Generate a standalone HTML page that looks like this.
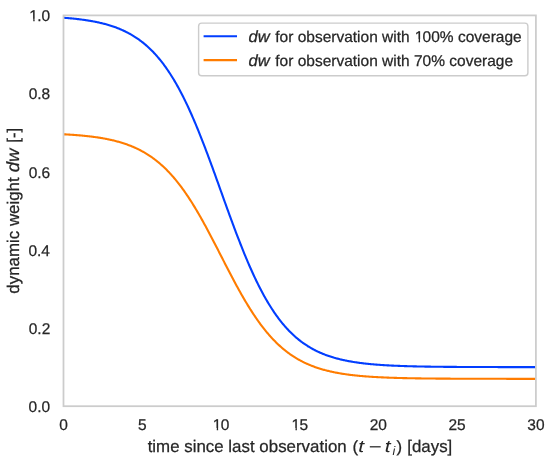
<!DOCTYPE html>
<html><head><meta charset="utf-8"><style>
html,body{margin:0;padding:0;background:#fff;width:550px;height:460px;overflow:hidden}
svg{display:block;will-change:transform}
text{font-family:"Liberation Sans",sans-serif;fill:#262626;stroke:#262626;stroke-width:0.25px}
</style></head><body>
<svg width="550" height="460" viewBox="0 0 550 460">
<rect x="0" y="0" width="550" height="460" fill="#fff"/>
<defs><clipPath id="ax"><rect x="63.5" y="15.4" width="472.40" height="390.80"/></clipPath></defs>
<g clip-path="url(#ax)">
<path d="M63.50,17.75 L64.29,17.81 L65.07,17.87 L65.86,17.94 L66.65,18.00 L67.44,18.07 L68.22,18.13 L69.01,18.20 L69.80,18.27 L70.59,18.34 L71.37,18.42 L72.16,18.49 L72.95,18.57 L73.74,18.65 L74.52,18.73 L75.31,18.81 L76.10,18.90 L76.88,18.99 L77.67,19.08 L78.46,19.17 L79.25,19.26 L80.03,19.36 L80.82,19.46 L81.61,19.56 L82.40,19.67 L83.18,19.77 L83.97,19.88 L84.76,19.99 L85.55,20.11 L86.33,20.23 L87.12,20.35 L87.91,20.47 L88.69,20.60 L89.48,20.73 L90.27,20.86 L91.06,20.99 L91.84,21.13 L92.63,21.28 L93.42,21.42 L94.21,21.57 L94.99,21.73 L95.78,21.88 L96.57,22.04 L97.36,22.21 L98.14,22.38 L98.93,22.55 L99.72,22.73 L100.50,22.91 L101.29,23.10 L102.08,23.29 L102.87,23.48 L103.65,23.68 L104.44,23.89 L105.23,24.10 L106.02,24.31 L106.80,24.53 L107.59,24.75 L108.38,24.99 L109.17,25.22 L109.95,25.46 L110.74,25.71 L111.53,25.96 L112.31,26.22 L113.10,26.49 L113.89,26.76 L114.68,27.04 L115.46,27.32 L116.25,27.61 L117.04,27.91 L117.83,28.22 L118.61,28.53 L119.40,28.85 L120.19,29.18 L120.98,29.51 L121.76,29.85 L122.55,30.20 L123.34,30.56 L124.12,30.93 L124.91,31.30 L125.70,31.69 L126.49,32.08 L127.27,32.48 L128.06,32.89 L128.85,33.31 L129.64,33.74 L130.42,34.18 L131.21,34.63 L132.00,35.09 L132.79,35.56 L133.57,36.04 L134.36,36.53 L135.15,37.04 L135.93,37.55 L136.72,38.07 L137.51,38.61 L138.30,39.16 L139.08,39.72 L139.87,40.29 L140.66,40.87 L141.45,41.47 L142.23,42.08 L143.02,42.70 L143.81,43.34 L144.60,43.99 L145.38,44.65 L146.17,45.33 L146.96,46.02 L147.74,46.73 L148.53,47.45 L149.32,48.19 L150.11,48.94 L150.89,49.70 L151.68,50.48 L152.47,51.28 L153.26,52.10 L154.04,52.93 L154.83,53.77 L155.62,54.63 L156.41,55.51 L157.19,56.41 L157.98,57.33 L158.77,58.26 L159.55,59.21 L160.34,60.18 L161.13,61.16 L161.92,62.17 L162.70,63.19 L163.49,64.23 L164.28,65.29 L165.07,66.37 L165.85,67.47 L166.64,68.59 L167.43,69.73 L168.22,70.89 L169.00,72.07 L169.79,73.26 L170.58,74.48 L171.36,75.72 L172.15,76.98 L172.94,78.26 L173.73,79.56 L174.51,80.88 L175.30,82.23 L176.09,83.59 L176.88,84.98 L177.66,86.38 L178.45,87.81 L179.24,89.26 L180.03,90.73 L180.81,92.22 L181.60,93.73 L182.39,95.26 L183.17,96.81 L183.96,98.39 L184.75,99.98 L185.54,101.60 L186.32,103.24 L187.11,104.90 L187.90,106.57 L188.69,108.27 L189.47,109.99 L190.26,111.73 L191.05,113.49 L191.84,115.27 L192.62,117.06 L193.41,118.88 L194.20,120.72 L194.98,122.57 L195.77,124.44 L196.56,126.33 L197.35,128.24 L198.13,130.16 L198.92,132.10 L199.71,134.06 L200.50,136.04 L201.28,138.03 L202.07,140.03 L202.86,142.05 L203.65,144.08 L204.43,146.13 L205.22,148.19 L206.01,150.26 L206.79,152.35 L207.58,154.44 L208.37,156.55 L209.16,158.67 L209.94,160.79 L210.73,162.93 L211.52,165.08 L212.31,167.23 L213.09,169.39 L213.88,171.56 L214.67,173.73 L215.46,175.91 L216.24,178.10 L217.03,180.28 L217.82,182.47 L218.60,184.67 L219.39,186.86 L220.18,189.06 L220.97,191.26 L221.75,193.46 L222.54,195.66 L223.33,197.85 L224.12,200.05 L224.90,202.24 L225.69,204.42 L226.48,206.61 L227.27,208.79 L228.05,210.96 L228.84,213.13 L229.63,215.29 L230.41,217.44 L231.20,219.59 L231.99,221.73 L232.78,223.85 L233.56,225.97 L234.35,228.08 L235.14,230.17 L235.93,232.26 L236.71,234.33 L237.50,236.39 L238.29,238.44 L239.08,240.47 L239.86,242.49 L240.65,244.49 L241.44,246.48 L242.22,248.46 L243.01,250.42 L243.80,252.36 L244.59,254.28 L245.37,256.19 L246.16,258.08 L246.95,259.95 L247.74,261.80 L248.52,263.64 L249.31,265.46 L250.10,267.25 L250.89,269.03 L251.67,270.79 L252.46,272.53 L253.25,274.25 L254.03,275.95 L254.82,277.62 L255.61,279.28 L256.40,280.92 L257.18,282.54 L257.97,284.13 L258.76,285.71 L259.55,287.26 L260.33,288.79 L261.12,290.30 L261.91,291.79 L262.70,293.26 L263.48,294.71 L264.27,296.14 L265.06,297.54 L265.84,298.93 L266.63,300.29 L267.42,301.64 L268.21,302.96 L268.99,304.26 L269.78,305.54 L270.57,306.80 L271.36,308.04 L272.14,309.26 L272.93,310.45 L273.72,311.63 L274.51,312.79 L275.29,313.93 L276.08,315.05 L276.87,316.15 L277.65,317.23 L278.44,318.29 L279.23,319.33 L280.02,320.35 L280.80,321.36 L281.59,322.34 L282.38,323.31 L283.17,324.26 L283.95,325.19 L284.74,326.11 L285.53,327.01 L286.32,327.89 L287.10,328.75 L287.89,329.59 L288.68,330.42 L289.46,331.24 L290.25,332.04 L291.04,332.82 L291.83,333.58 L292.61,334.33 L293.40,335.07 L294.19,335.79 L294.98,336.50 L295.76,337.19 L296.55,337.87 L297.34,338.53 L298.13,339.18 L298.91,339.82 L299.70,340.44 L300.49,341.05 L301.27,341.65 L302.06,342.23 L302.85,342.80 L303.64,343.36 L304.42,343.91 L305.21,344.45 L306.00,344.97 L306.79,345.48 L307.57,345.99 L308.36,346.48 L309.15,346.96 L309.94,347.43 L310.72,347.89 L311.51,348.34 L312.30,348.78 L313.08,349.21 L313.87,349.63 L314.66,350.04 L315.45,350.44 L316.23,350.83 L317.02,351.22 L317.81,351.59 L318.60,351.96 L319.38,352.32 L320.17,352.67 L320.96,353.01 L321.75,353.34 L322.53,353.67 L323.32,353.99 L324.11,354.30 L324.89,354.61 L325.68,354.91 L326.47,355.20 L327.26,355.48 L328.04,355.76 L328.83,356.03 L329.62,356.30 L330.41,356.56 L331.19,356.81 L331.98,357.06 L332.77,357.30 L333.56,357.53 L334.34,357.77 L335.13,357.99 L335.92,358.21 L336.70,358.42 L337.49,358.63 L338.28,358.84 L339.07,359.04 L339.85,359.23 L340.64,359.42 L341.43,359.61 L342.22,359.79 L343.00,359.97 L343.79,360.14 L344.58,360.31 L345.37,360.48 L346.15,360.64 L346.94,360.79 L347.73,360.95 L348.51,361.10 L349.30,361.24 L350.09,361.39 L350.88,361.53 L351.66,361.66 L352.45,361.79 L353.24,361.92 L354.03,362.05 L354.81,362.17 L355.60,362.29 L356.39,362.41 L357.18,362.53 L357.96,362.64 L358.75,362.75 L359.54,362.85 L360.32,362.96 L361.11,363.06 L361.90,363.16 L362.69,363.26 L363.47,363.35 L364.26,363.44 L365.05,363.53 L365.84,363.62 L366.62,363.71 L367.41,363.79 L368.20,363.87 L368.99,363.95 L369.77,364.03 L370.56,364.10 L371.35,364.18 L372.13,364.25 L372.92,364.32 L373.71,364.39 L374.50,364.45 L375.28,364.52 L376.07,364.58 L376.86,364.65 L377.65,364.71 L378.43,364.77 L379.22,364.82 L380.01,364.88 L380.80,364.94 L381.58,364.99 L382.37,365.04 L383.16,365.09 L383.94,365.14 L384.73,365.19 L385.52,365.24 L386.31,365.28 L387.09,365.33 L387.88,365.37 L388.67,365.42 L389.46,365.46 L390.24,365.50 L391.03,365.54 L391.82,365.58 L392.61,365.62 L393.39,365.65 L394.18,365.69 L394.97,365.72 L395.75,365.76 L396.54,365.79 L397.33,365.82 L398.12,365.86 L398.90,365.89 L399.69,365.92 L400.48,365.95 L401.27,365.98 L402.05,366.00 L402.84,366.03 L403.63,366.06 L404.42,366.08 L405.20,366.11 L405.99,366.13 L406.78,366.16 L407.56,366.18 L408.35,366.21 L409.14,366.23 L409.93,366.25 L410.71,366.27 L411.50,366.29 L412.29,366.31 L413.08,366.33 L413.86,366.35 L414.65,366.37 L415.44,366.39 L416.23,366.41 L417.01,366.43 L417.80,366.44 L418.59,366.46 L419.37,366.48 L420.16,366.49 L420.95,366.51 L421.74,366.52 L422.52,366.54 L423.31,366.55 L424.10,366.56 L424.89,366.58 L425.67,366.59 L426.46,366.61 L427.25,366.62 L428.04,366.63 L428.82,366.64 L429.61,366.65 L430.40,366.67 L431.18,366.68 L431.97,366.69 L432.76,366.70 L433.55,366.71 L434.33,366.72 L435.12,366.73 L435.91,366.74 L436.70,366.75 L437.48,366.76 L438.27,366.77 L439.06,366.77 L439.85,366.78 L440.63,366.79 L441.42,366.80 L442.21,366.81 L442.99,366.82 L443.78,366.82 L444.57,366.83 L445.36,366.84 L446.14,366.84 L446.93,366.85 L447.72,366.86 L448.51,366.86 L449.29,366.87 L450.08,366.88 L450.87,366.88 L451.66,366.89 L452.44,366.89 L453.23,366.90 L454.02,366.91 L454.80,366.91 L455.59,366.92 L456.38,366.92 L457.17,366.93 L457.95,366.93 L458.74,366.94 L459.53,366.94 L460.32,366.94 L461.10,366.95 L461.89,366.95 L462.68,366.96 L463.47,366.96 L464.25,366.96 L465.04,366.97 L465.83,366.97 L466.61,366.98 L467.40,366.98 L468.19,366.98 L468.98,366.99 L469.76,366.99 L470.55,366.99 L471.34,367.00 L472.13,367.00 L472.91,367.00 L473.70,367.00 L474.49,367.01 L475.28,367.01 L476.06,367.01 L476.85,367.02 L477.64,367.02 L478.42,367.02 L479.21,367.02 L480.00,367.03 L480.79,367.03 L481.57,367.03 L482.36,367.03 L483.15,367.03 L483.94,367.04 L484.72,367.04 L485.51,367.04 L486.30,367.04 L487.09,367.04 L487.87,367.05 L488.66,367.05 L489.45,367.05 L490.23,367.05 L491.02,367.05 L491.81,367.06 L492.60,367.06 L493.38,367.06 L494.17,367.06 L494.96,367.06 L495.75,367.06 L496.53,367.06 L497.32,367.07 L498.11,367.07 L498.90,367.07 L499.68,367.07 L500.47,367.07 L501.26,367.07 L502.04,367.07 L502.83,367.07 L503.62,367.08 L504.41,367.08 L505.19,367.08 L505.98,367.08 L506.77,367.08 L507.56,367.08 L508.34,367.08 L509.13,367.08 L509.92,367.08 L510.71,367.08 L511.49,367.09 L512.28,367.09 L513.07,367.09 L513.85,367.09 L514.64,367.09 L515.43,367.09 L516.22,367.09 L517.00,367.09 L517.79,367.09 L518.58,367.09 L519.37,367.09 L520.15,367.09 L520.94,367.09 L521.73,367.09 L522.52,367.10 L523.30,367.10 L524.09,367.10 L524.88,367.10 L525.66,367.10 L526.45,367.10 L527.24,367.10 L528.03,367.10 L528.81,367.10 L529.60,367.10 L530.39,367.10 L531.18,367.10 L531.96,367.10 L532.75,367.10 L533.54,367.10 L534.33,367.10 L535.11,367.10 L535.90,367.10" fill="none" stroke="#023eff" stroke-width="2.11" stroke-linejoin="round" stroke-linecap="square"/>
<path d="M63.50,134.29 L64.29,134.33 L65.07,134.37 L65.86,134.42 L66.65,134.46 L67.44,134.51 L68.22,134.55 L69.01,134.60 L69.80,134.65 L70.59,134.70 L71.37,134.75 L72.16,134.80 L72.95,134.86 L73.74,134.91 L74.52,134.97 L75.31,135.03 L76.10,135.09 L76.88,135.15 L77.67,135.21 L78.46,135.28 L79.25,135.35 L80.03,135.41 L80.82,135.48 L81.61,135.55 L82.40,135.63 L83.18,135.70 L83.97,135.78 L84.76,135.86 L85.55,135.94 L86.33,136.02 L87.12,136.10 L87.91,136.19 L88.69,136.28 L89.48,136.37 L90.27,136.46 L91.06,136.56 L91.84,136.65 L92.63,136.75 L93.42,136.86 L94.21,136.96 L94.99,137.07 L95.78,137.18 L96.57,137.29 L97.36,137.41 L98.14,137.52 L98.93,137.65 L99.72,137.77 L100.50,137.90 L101.29,138.03 L102.08,138.16 L102.87,138.30 L103.65,138.44 L104.44,138.58 L105.23,138.73 L106.02,138.88 L106.80,139.03 L107.59,139.19 L108.38,139.35 L109.17,139.51 L109.95,139.68 L110.74,139.86 L111.53,140.03 L112.31,140.22 L113.10,140.40 L113.89,140.59 L114.68,140.79 L115.46,140.99 L116.25,141.19 L117.04,141.40 L117.83,141.61 L118.61,141.83 L119.40,142.05 L120.19,142.28 L120.98,142.52 L121.76,142.76 L122.55,143.00 L123.34,143.25 L124.12,143.51 L124.91,143.77 L125.70,144.04 L126.49,144.32 L127.27,144.60 L128.06,144.89 L128.85,145.18 L129.64,145.48 L130.42,145.79 L131.21,146.10 L132.00,146.42 L132.79,146.75 L133.57,147.09 L134.36,147.43 L135.15,147.79 L135.93,148.14 L136.72,148.51 L137.51,148.89 L138.30,149.27 L139.08,149.66 L139.87,150.06 L140.66,150.47 L141.45,150.89 L142.23,151.32 L143.02,151.75 L143.81,152.20 L144.60,152.65 L145.38,153.12 L146.17,153.59 L146.96,154.08 L147.74,154.57 L148.53,155.07 L149.32,155.59 L150.11,156.12 L150.89,156.65 L151.68,157.20 L152.47,157.76 L153.26,158.33 L154.04,158.91 L154.83,159.50 L155.62,160.10 L156.41,160.72 L157.19,161.35 L157.98,161.99 L158.77,162.64 L159.55,163.31 L160.34,163.98 L161.13,164.67 L161.92,165.38 L162.70,166.09 L163.49,166.82 L164.28,167.56 L165.07,168.32 L165.85,169.09 L166.64,169.87 L167.43,170.67 L168.22,171.48 L169.00,172.31 L169.79,173.14 L170.58,174.00 L171.36,174.87 L172.15,175.75 L172.94,176.64 L173.73,177.55 L174.51,178.48 L175.30,179.42 L176.09,180.37 L176.88,181.34 L177.66,182.33 L178.45,183.33 L179.24,184.34 L180.03,185.37 L180.81,186.41 L181.60,187.47 L182.39,188.54 L183.17,189.63 L183.96,190.73 L184.75,191.85 L185.54,192.98 L186.32,194.13 L187.11,195.29 L187.90,196.46 L188.69,197.65 L189.47,198.85 L190.26,200.07 L191.05,201.30 L191.84,202.55 L192.62,203.81 L193.41,205.08 L194.20,206.36 L194.98,207.66 L195.77,208.97 L196.56,210.29 L197.35,211.63 L198.13,212.97 L198.92,214.33 L199.71,215.70 L200.50,217.09 L201.28,218.48 L202.07,219.88 L202.86,221.29 L203.65,222.72 L204.43,224.15 L205.22,225.59 L206.01,227.04 L206.79,228.50 L207.58,229.97 L208.37,231.44 L209.16,232.93 L209.94,234.42 L210.73,235.91 L211.52,237.41 L212.31,238.92 L213.09,240.43 L213.88,241.95 L214.67,243.47 L215.46,245.00 L216.24,246.53 L217.03,248.06 L217.82,249.59 L218.60,251.13 L219.39,252.67 L220.18,254.20 L220.97,255.74 L221.75,257.28 L222.54,258.82 L223.33,260.36 L224.12,261.89 L224.90,263.43 L225.69,264.96 L226.48,266.49 L227.27,268.01 L228.05,269.53 L228.84,271.05 L229.63,272.56 L230.41,274.07 L231.20,275.57 L231.99,277.07 L232.78,278.56 L233.56,280.04 L234.35,281.51 L235.14,282.98 L235.93,284.44 L236.71,285.89 L237.50,287.33 L238.29,288.77 L239.08,290.19 L239.86,291.60 L240.65,293.01 L241.44,294.40 L242.22,295.78 L243.01,297.15 L243.80,298.51 L244.59,299.86 L245.37,301.19 L246.16,302.51 L246.95,303.82 L247.74,305.12 L248.52,306.41 L249.31,307.68 L250.10,308.94 L250.89,310.18 L251.67,311.41 L252.46,312.63 L253.25,313.83 L254.03,315.02 L254.82,316.20 L255.61,317.36 L256.40,318.50 L257.18,319.63 L257.97,320.75 L258.76,321.85 L259.55,322.94 L260.33,324.01 L261.12,325.07 L261.91,326.12 L262.70,327.14 L263.48,328.16 L264.27,329.16 L265.06,330.14 L265.84,331.11 L266.63,332.06 L267.42,333.00 L268.21,333.93 L268.99,334.84 L269.78,335.74 L270.57,336.62 L271.36,337.49 L272.14,338.34 L272.93,339.18 L273.72,340.00 L274.51,340.81 L275.29,341.61 L276.08,342.39 L276.87,343.16 L277.65,343.92 L278.44,344.66 L279.23,345.39 L280.02,346.11 L280.80,346.81 L281.59,347.50 L282.38,348.18 L283.17,348.84 L283.95,349.50 L284.74,350.14 L285.53,350.76 L286.32,351.38 L287.10,351.98 L287.89,352.58 L288.68,353.16 L289.46,353.73 L290.25,354.29 L291.04,354.83 L291.83,355.37 L292.61,355.89 L293.40,356.41 L294.19,356.91 L294.98,357.41 L295.76,357.89 L296.55,358.37 L297.34,358.83 L298.13,359.29 L298.91,359.73 L299.70,360.17 L300.49,360.59 L301.27,361.01 L302.06,361.42 L302.85,361.82 L303.64,362.21 L304.42,362.60 L305.21,362.97 L306.00,363.34 L306.79,363.70 L307.57,364.05 L308.36,364.39 L309.15,364.73 L309.94,365.06 L310.72,365.38 L311.51,365.70 L312.30,366.00 L313.08,366.30 L313.87,366.60 L314.66,366.89 L315.45,367.17 L316.23,367.44 L317.02,367.71 L317.81,367.97 L318.60,368.23 L319.38,368.48 L320.17,368.73 L320.96,368.97 L321.75,369.20 L322.53,369.43 L323.32,369.65 L324.11,369.87 L324.89,370.09 L325.68,370.29 L326.47,370.50 L327.26,370.70 L328.04,370.89 L328.83,371.08 L329.62,371.27 L330.41,371.45 L331.19,371.63 L331.98,371.80 L332.77,371.97 L333.56,372.13 L334.34,372.30 L335.13,372.45 L335.92,372.61 L336.70,372.76 L337.49,372.90 L338.28,373.05 L339.07,373.19 L339.85,373.32 L340.64,373.46 L341.43,373.59 L342.22,373.71 L343.00,373.84 L343.79,373.96 L344.58,374.08 L345.37,374.19 L346.15,374.31 L346.94,374.42 L347.73,374.52 L348.51,374.63 L349.30,374.73 L350.09,374.83 L350.88,374.93 L351.66,375.02 L352.45,375.12 L353.24,375.21 L354.03,375.30 L354.81,375.38 L355.60,375.47 L356.39,375.55 L357.18,375.63 L357.96,375.71 L358.75,375.78 L359.54,375.86 L360.32,375.93 L361.11,376.00 L361.90,376.07 L362.69,376.14 L363.47,376.21 L364.26,376.27 L365.05,376.33 L365.84,376.39 L366.62,376.45 L367.41,376.51 L368.20,376.57 L368.99,376.62 L369.77,376.68 L370.56,376.73 L371.35,376.78 L372.13,376.83 L372.92,376.88 L373.71,376.93 L374.50,376.98 L375.28,377.02 L376.07,377.07 L376.86,377.11 L377.65,377.15 L378.43,377.20 L379.22,377.24 L380.01,377.28 L380.80,377.31 L381.58,377.35 L382.37,377.39 L383.16,377.42 L383.94,377.46 L384.73,377.49 L385.52,377.53 L386.31,377.56 L387.09,377.59 L387.88,377.62 L388.67,377.65 L389.46,377.68 L390.24,377.71 L391.03,377.74 L391.82,377.76 L392.61,377.79 L393.39,377.82 L394.18,377.84 L394.97,377.87 L395.75,377.89 L396.54,377.91 L397.33,377.94 L398.12,377.96 L398.90,377.98 L399.69,378.00 L400.48,378.02 L401.27,378.04 L402.05,378.06 L402.84,378.08 L403.63,378.10 L404.42,378.12 L405.20,378.14 L405.99,378.15 L406.78,378.17 L407.56,378.19 L408.35,378.20 L409.14,378.22 L409.93,378.24 L410.71,378.25 L411.50,378.26 L412.29,378.28 L413.08,378.29 L413.86,378.31 L414.65,378.32 L415.44,378.33 L416.23,378.35 L417.01,378.36 L417.80,378.37 L418.59,378.38 L419.37,378.39 L420.16,378.40 L420.95,378.41 L421.74,378.43 L422.52,378.44 L423.31,378.45 L424.10,378.46 L424.89,378.47 L425.67,378.47 L426.46,378.48 L427.25,378.49 L428.04,378.50 L428.82,378.51 L429.61,378.52 L430.40,378.53 L431.18,378.53 L431.97,378.54 L432.76,378.55 L433.55,378.56 L434.33,378.56 L435.12,378.57 L435.91,378.58 L436.70,378.58 L437.48,378.59 L438.27,378.60 L439.06,378.60 L439.85,378.61 L440.63,378.61 L441.42,378.62 L442.21,378.63 L442.99,378.63 L443.78,378.64 L444.57,378.64 L445.36,378.65 L446.14,378.65 L446.93,378.66 L447.72,378.66 L448.51,378.66 L449.29,378.67 L450.08,378.67 L450.87,378.68 L451.66,378.68 L452.44,378.69 L453.23,378.69 L454.02,378.69 L454.80,378.70 L455.59,378.70 L456.38,378.70 L457.17,378.71 L457.95,378.71 L458.74,378.71 L459.53,378.72 L460.32,378.72 L461.10,378.72 L461.89,378.73 L462.68,378.73 L463.47,378.73 L464.25,378.74 L465.04,378.74 L465.83,378.74 L466.61,378.74 L467.40,378.75 L468.19,378.75 L468.98,378.75 L469.76,378.75 L470.55,378.76 L471.34,378.76 L472.13,378.76 L472.91,378.76 L473.70,378.76 L474.49,378.77 L475.28,378.77 L476.06,378.77 L476.85,378.77 L477.64,378.77 L478.42,378.77 L479.21,378.78 L480.00,378.78 L480.79,378.78 L481.57,378.78 L482.36,378.78 L483.15,378.78 L483.94,378.79 L484.72,378.79 L485.51,378.79 L486.30,378.79 L487.09,378.79 L487.87,378.79 L488.66,378.79 L489.45,378.80 L490.23,378.80 L491.02,378.80 L491.81,378.80 L492.60,378.80 L493.38,378.80 L494.17,378.80 L494.96,378.80 L495.75,378.80 L496.53,378.80 L497.32,378.81 L498.11,378.81 L498.90,378.81 L499.68,378.81 L500.47,378.81 L501.26,378.81 L502.04,378.81 L502.83,378.81 L503.62,378.81 L504.41,378.81 L505.19,378.81 L505.98,378.82 L506.77,378.82 L507.56,378.82 L508.34,378.82 L509.13,378.82 L509.92,378.82 L510.71,378.82 L511.49,378.82 L512.28,378.82 L513.07,378.82 L513.85,378.82 L514.64,378.82 L515.43,378.82 L516.22,378.82 L517.00,378.82 L517.79,378.82 L518.58,378.82 L519.37,378.83 L520.15,378.83 L520.94,378.83 L521.73,378.83 L522.52,378.83 L523.30,378.83 L524.09,378.83 L524.88,378.83 L525.66,378.83 L526.45,378.83 L527.24,378.83 L528.03,378.83 L528.81,378.83 L529.60,378.83 L530.39,378.83 L531.18,378.83 L531.96,378.83 L532.75,378.83 L533.54,378.83 L534.33,378.83 L535.11,378.83 L535.90,378.83" fill="none" stroke="#ff7c00" stroke-width="2.11" stroke-linejoin="round" stroke-linecap="square"/>
</g>
<rect x="63.5" y="15.4" width="472.40" height="390.80" fill="none" stroke="#cccccc" stroke-width="1.76" stroke-linecap="square"/>
<rect x="198.6" y="23.1" width="329.3" height="52.7" rx="3.1" ry="3.1" fill="#fff" fill-opacity="0.8" stroke="#cccccc" stroke-width="1.41"/>
<line x1="204.65" y1="36.2" x2="235.95" y2="36.2" stroke="#023eff" stroke-width="2.11" stroke-linecap="square"/>
<line x1="204.65" y1="60.1" x2="235.95" y2="60.1" stroke="#ff7c00" stroke-width="2.11" stroke-linecap="square"/>
<text transform="translate(59.19,430.40) skewX(0.1)" font-size="15.5">0</text>
<text transform="translate(137.94,430.40) skewX(0.1)" font-size="15.5">5</text>
<g transform="translate(212.06,430.40) skewX(0.1)"><text font-size="15.5"><tspan dx="0.80">1</tspan><tspan dx="-0.80">0</tspan></text><rect x="0.86" y="-2.46" width="3.84" height="3.66" fill="#fff"/><rect x="6.07" y="-2.46" width="3.28" height="3.66" fill="#fff"/></g>
<g transform="translate(290.81,430.40) skewX(0.1)"><text font-size="15.5"><tspan dx="0.80">1</tspan><tspan dx="-0.80">5</tspan></text><rect x="0.86" y="-2.46" width="3.84" height="3.66" fill="#fff"/><rect x="6.07" y="-2.46" width="3.28" height="3.66" fill="#fff"/></g>
<text transform="translate(369.73,430.40) skewX(0.1)" font-size="15.5">20</text>
<text transform="translate(448.48,430.40) skewX(0.1)" font-size="15.5">25</text>
<text transform="translate(527.29,430.40) skewX(0.1)" font-size="15.5">30</text>
<text transform="translate(28.56,412.00) skewX(0.1)" font-size="15.5">0.0</text>
<text transform="translate(28.73,333.84) skewX(0.1)" font-size="15.5">0.2</text>
<text transform="translate(28.41,255.68) skewX(0.1)" font-size="15.5">0.4</text>
<text transform="translate(28.63,177.52) skewX(0.1)" font-size="15.5">0.6</text>
<text transform="translate(28.63,99.36) skewX(0.1)" font-size="15.5">0.8</text>
<g transform="translate(28.56,21.20) skewX(0.1)"><text font-size="15.5"><tspan dx="0.80">1</tspan><tspan dx="-0.80">.</tspan>0</text><rect x="0.86" y="-2.46" width="3.84" height="3.66" fill="#fff"/><rect x="6.07" y="-2.46" width="3.28" height="3.66" fill="#fff"/></g>
<text transform="translate(248.54,41.80) skewX(0.1) scale(1.073,1.045)" font-size="15.5" font-style="italic">dw</text>
<g transform="translate(275.28,41.80) skewX(0.1)"><text font-size="15.5">for observation with <tspan dx="0.80">1</tspan><tspan dx="-0.80">0</tspan>0% coverage</text><rect x="139.56" y="-2.46" width="3.84" height="3.66" fill="#fff"/><rect x="144.77" y="-2.46" width="3.28" height="3.66" fill="#fff"/></g>
<text transform="translate(248.54,65.50) skewX(0.1) scale(1.073,1.045)" font-size="15.5" font-style="italic">dw</text>
<text transform="translate(275.28,65.50) skewX(0.1)" font-size="15.5">for observation with 70% coverage</text>
<text transform="translate(147.64,452.30) skewX(0.1)" font-size="16.9">time since last observation</text>
<text transform="translate(352.45,451.80) skewX(0.1) scale(1.0,0.952)" font-size="16.9">(</text>
<text transform="translate(358.34,452.30) skewX(0.1) scale(1.25,1.0)" font-size="16.9" font-style="italic" style="stroke-width:0">t</text>
<rect x="369.8" y="446.18" width="10.9" height="1.25" fill="#262626"/>
<text transform="translate(384.64,452.30) skewX(0.1) scale(1.25,1.0)" font-size="16.9" font-style="italic" style="stroke-width:0">t</text>
<text transform="translate(392.40,455.20) skewX(0.1)" font-size="12.5" font-style="italic" style="stroke-width:0">i</text>
<text transform="translate(396.40,451.80) skewX(0.1) scale(1.0,0.952)" font-size="16.9">)</text>
<text transform="translate(407.20,452.30) skewX(0.1)" font-size="16.9">[days]</text>
<g transform="translate(18.5,293.0) rotate(-90)">
<text transform="translate(-0.71,0.00) skewX(0.1)" font-size="16.9">dynamic weight</text>
<text transform="translate(120.68,0.00) skewX(0.1) scale(1.094,1.045)" font-size="16.9" font-style="italic">dw</text>
<text transform="translate(150.20,0.00) skewX(0.1)" font-size="16.9">[-]</text>
</g>
</svg>
</body></html>
